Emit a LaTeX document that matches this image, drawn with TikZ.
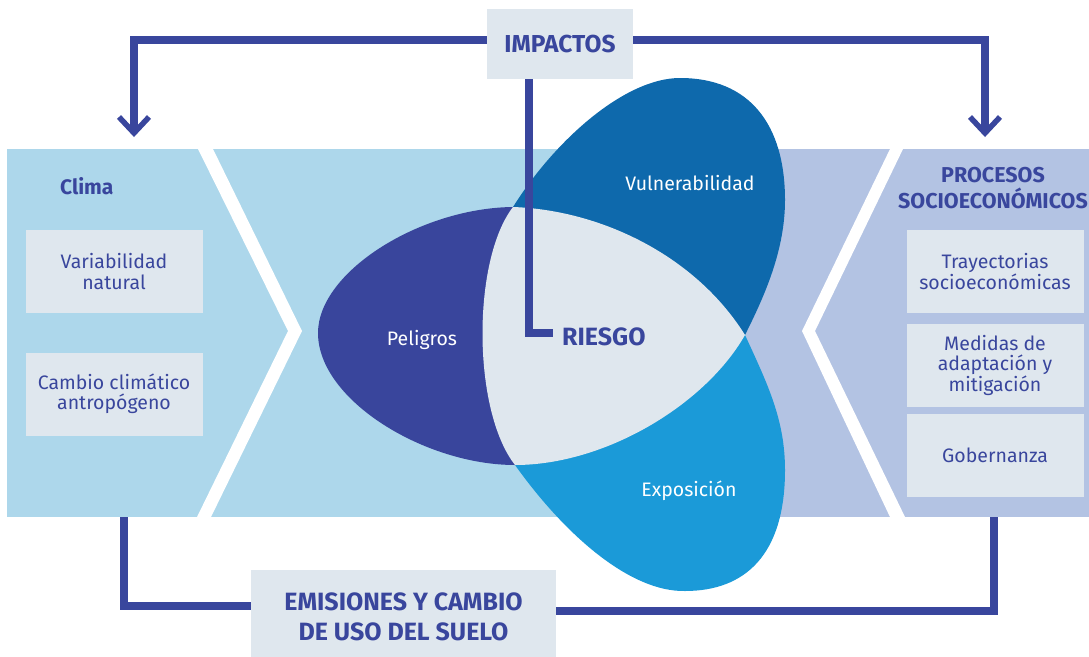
\documentclass[tikz,border=0pt]{standalone}
\usepackage{fontspec}
\setmainfont{Fira Sans}
\usetikzlibrary{calc}
\definecolor{navy}{RGB}{57,70,157}
\definecolor{bandblue}{RGB}{173,215,235}
\definecolor{lavender}{RGB}{179,195,227}
\definecolor{boxgray}{RGB}{223,231,238}
\definecolor{vulncol}{RGB}{14,105,172}
\definecolor{expocol}{RGB}{27,154,216}
\definecolor{peligcol}{RGB}{57,69,156}
\begin{document}
\begin{tikzpicture}[x=1pt,y=-1pt,
  conn/.style={draw=navy,line width=8pt},
  barb/.style={draw=navy,line width=5.5pt},
  graybox/.style={fill=boxgray,inner sep=0pt,align=center,text=navy,
    minimum width=177pt,minimum height=83pt,font=\fontsize{19.5}{20.5}\selectfont},
  headbox/.style={fill=boxgray,inner sep=0pt,align=center,text=navy,
    font=\bfseries\fontsize{25}{30}\selectfont},
  headtxt/.style={text=navy,inner sep=0pt,align=center,font=\bfseries\fontsize{21.5}{26}\selectfont},
  petaltxt/.style={text=white,inner sep=0pt,font=\fontsize{19.5}{20.5}\selectfont}
]
\useasboundingbox (0,0) rectangle (1089,656);
% bands
\fill[bandblue] (7,149) rectangle (746,517);
\fill[lavender] (746,149) rectangle (1089,517);
\fill[white] (198,149) -- (213,149) -- (302,331) -- (211,517) -- (197,517) -- (288,331) -- cycle;
\fill[white] (890,149) -- (903,149) -- (815,331) -- (905,517) -- (890,517) -- (802,331) -- cycle;
% side boxes
\node[headtxt,anchor=base west,font=\bfseries\fontsize{21}{25}\selectfont] (clima) at (60,194) {Clima};
\node[graybox] (varnat) at (114,271.5) {Variabilidad\\natural};
\node[graybox] (cambio) at (114,394) {Cambio climático\\antropógeno};
\node[headtxt] (procesos) at (993,188) {PROCESOS\\SOCIOECONÓMICOS};
\node[graybox] (tray) at (995,271.5) {Trayectorias\\socioeconómicas};
\node[graybox] (medidas) at (995,365) {Medidas de\\adaptación y\\mitigación};
\node[graybox] (gob) at (995,455) {Gobernanza};
% petals
\fill[peligcol] (513,207) .. controls (420,208) and (318,272) .. (318,333)
  .. controls (318,400) and (425,465) .. (515,465) -- cycle;
\fill[vulncol] (513,207) .. controls (555,140) and (625,78) .. (680,78)
  .. controls (750,78) and (785,125) .. (785,200)
  .. controls (785,250) and (765,295) .. (745,335) -- cycle;
\fill[expocol] (745,335) .. controls (768,385) and (785,420) .. (785,470)
  .. controls (785,555) and (745,591) .. (685,591)
  .. controls (630,592) and (565,535) .. (515,465) -- cycle;
\fill[boxgray] (513,207) .. controls (600,210) and (695,255) .. (745,335)
  .. controls (705,405) and (605,465) .. (515,465)
  .. controls (472,410) and (472,260) .. (513,207) -- cycle;
% petal labels
\node[petaltxt,anchor=base] (pelig) at (422,345) {Peligros};
\node[petaltxt,anchor=base] (vuln) at (690,190) {Vulnerabilidad};
\node[petaltxt,anchor=base] (expo) at (689,496) {Exposición};
\node[text=navy,anchor=west,inner xsep=9pt,inner ysep=0pt,font=\bfseries\fontsize{25}{29}\selectfont] (riesgo) at (553,337) {RIESGO};
% head boxes
\node[headbox,minimum width=146pt,minimum height=70pt,font=\bfseries\fontsize{24.5}{29}\selectfont] (impactos) at (560,44) {IMPACTOS};
\node[headbox,minimum width=305pt,minimum height=94pt] (emis) at (403.5,617) {EMISIONES Y CAMBIO\\DE USO DEL SUELO};
% connectors
\coordinate (tipL) at (134,133);
\coordinate (tipR) at (985,133);
\coordinate (climabot) at (124,517);
\coordinate (procbot) at (994,517);
\coordinate (rx) at (529,0);
\draw[conn] ([yshift=4pt]impactos.west) -| ([yshift=3pt]tipL);
\draw[barb] ([shift={(-15,-16)}]tipL) -- (tipL) -- ([shift={(15,-16)}]tipL);
\draw[conn] ([yshift=4pt]impactos.east) -| ([yshift=3pt]tipR);
\draw[barb] ([shift={(-15,-16)}]tipR) -- (tipR) -- ([shift={(15,-16)}]tipR);
\draw[conn] (impactos.south -| rx) |- ([yshift=4pt]riesgo.west);
\draw[conn] (climabot) |- ([yshift=11pt]emis.west);
\draw[conn] ([yshift=6pt]emis.east) -| (procbot);
\end{tikzpicture}
\end{document}
